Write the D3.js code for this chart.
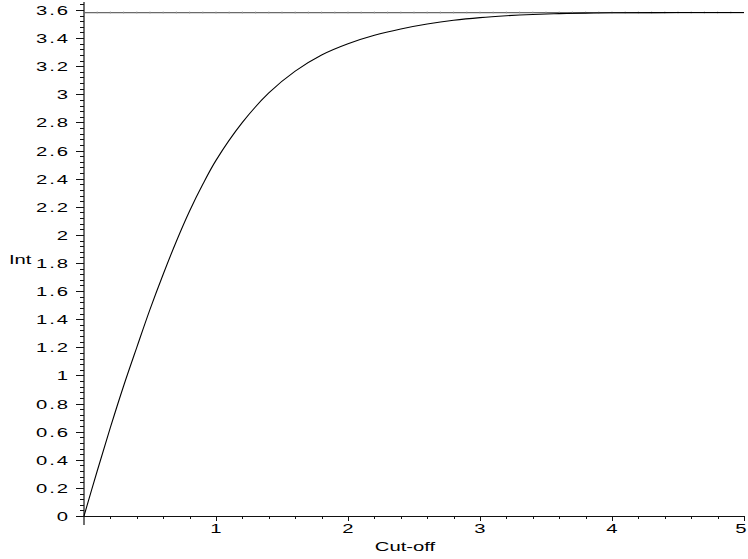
<!DOCTYPE html>
<html><head><meta charset="utf-8">
<script src="https://cdn.jsdelivr.net/npm/d3@7"></script>
<style>body{margin:0;background:#fff}svg{display:block}</style>
</head><body>
<script>
// Data
const cutoff = [0, 0.1, 0.2, 0.3, 0.4, 0.5, 0.6, 0.7, 0.8, 0.9, 1.0, 1.2, 1.4, 1.6, 1.8, 2.0, 2.2, 2.4, 2.6, 2.8, 3.0, 3.2, 3.4, 3.6, 3.8, 4.0, 4.5, 5.0];
const intValues = [0, 0.32, 0.63, 0.925, 1.20, 1.47, 1.72, 1.955, 2.17, 2.36, 2.53, 2.80, 3.01, 3.165, 3.28, 3.36, 3.42, 3.465, 3.50, 3.527, 3.546, 3.559, 3.568, 3.574, 3.578, 3.580, 3.582, 3.582];
const limitValue = [3.582];
const xTickValues = [1, 2, 3, 4, 5];
const xTickLabels = ["1", "2", "3", "4", "5"];
const yTickValues = [0,0.2,0.4,0.6,0.8,1,1.2,1.4,1.6,1.8,2,2.2,2.4,2.6,2.8,3,3.2,3.4,3.6];
const yTickLabels = ["0","0.2","0.4","0.6","0.8","1","1.2","1.4","1.6","1.8","2","2.2","2.4","2.6","2.8","3","3.2","3.4","3.6"];
const xLabel = "Cut-off";
const yLabel = "Int";

const W = 748, H = 559;
const svg = d3.select("body").append("svg").attr("width", W).attr("height", H);
const x = d3.scaleLinear().domain([0, 5]).range([84, 744]);
const y = d3.scaleLinear().domain([0, 3.6]).range([516, 10]);
const font = "'Liberation Sans', Arial, sans-serif";
const axisColor = "#111";

// Y axis
const yMinor = d3.range(0, 3.66, 0.04);
svg.append("line").attr("x1", x(0)).attr("x2", x(0)).attr("y1", 2).attr("y2", 525)
  .attr("stroke", axisColor).attr("stroke-width", 1.2);
svg.append("g").selectAll("line").data(yMinor).join("line")
  .attr("x1", x(0) - 4).attr("x2", x(0)).attr("y1", d => Math.round(y(d)) + 0.5).attr("y2", d => Math.round(y(d)) + 0.5)
  .attr("stroke", axisColor).attr("stroke-width", 1);
svg.append("g").selectAll("line").data(yTickValues).join("line")
  .attr("x1", x(0) - 8).attr("x2", x(0)).attr("y1", d => Math.round(y(d)) + 0.5).attr("y2", d => Math.round(y(d)) + 0.5)
  .attr("stroke", axisColor).attr("stroke-width", 1);
svg.append("g").selectAll("text").data(yTickValues).join("text")
  .attr("transform", d => `translate(70,${y(d) + 5}) scale(1.5,1)`)
  .attr("text-anchor", "end").attr("font-family", font).attr("font-size", 13.5)
  .attr("letter-spacing", 1.3)
  .text((d, i) => yTickLabels[i]);

// X axis
const xMinor = d3.range(0.2, 5.01, 0.2);
svg.append("line").attr("x1", 76).attr("x2", x(5)).attr("y1", y(0) + 0.5).attr("y2", y(0) + 0.5)
  .attr("stroke", axisColor).attr("stroke-width", 1.2);
svg.append("g").selectAll("line").data(xMinor).join("line")
  .attr("x1", d => Math.round(x(d)) + 0.5).attr("x2", d => Math.round(x(d)) + 0.5).attr("y1", y(0)).attr("y2", y(0) + 3)
  .attr("stroke", axisColor).attr("stroke-width", 1);
svg.append("g").selectAll("line").data(xTickValues).join("line")
  .attr("x1", d => Math.round(x(d)) + 0.5).attr("x2", d => Math.round(x(d)) + 0.5).attr("y1", y(0)).attr("y2", y(0) + 5)
  .attr("stroke", axisColor).attr("stroke-width", 1);
svg.append("g").selectAll("text").data(xTickValues).join("text")
  .attr("transform", d => `translate(${Math.min(x(d), W - 7)},533) scale(1.5,1)`)
  .attr("text-anchor", "middle").attr("font-family", font).attr("font-size", 13.5)
  .text((d, i) => xTickLabels[i]);

// Axis titles
svg.append("text").attr("transform", "translate(405,551) scale(1.5,1)")
  .attr("text-anchor", "middle").attr("font-family", font).attr("font-size", 13.5).text(xLabel);
svg.append("text").attr("transform", "translate(9,264) scale(1.5,1)")
  .attr("font-family", font).attr("font-size", 13.5).text(yLabel);

// Horizontal limit line with faint ticks
svg.append("line").attr("x1", x(0)).attr("x2", x(5)).attr("y1", y(limitValue[0])).attr("y2", y(limitValue[0]))
  .attr("stroke", "#6a6a6a").attr("stroke-width", 1.3);
svg.append("g").selectAll("line").data(d3.range(0.1, 5, 0.1)).join("line")
  .attr("x1", d => x(d)).attr("x2", d => x(d)).attr("y1", y(limitValue[0]) - 1).attr("y2", y(limitValue[0]) + 1)
  .attr("stroke", "#999").attr("stroke-width", 0.8);

// Curve
const pts = cutoff.map((c, i) => [c, intValues[i]]);
svg.append("path").datum(pts)
  .attr("d", d3.line().x(d => x(d[0])).y(d => y(d[1])).curve(d3.curveCatmullRom.alpha(0.5)))
  .attr("fill", "none").attr("stroke", "#000").attr("stroke-width", 1.1);
</script>
</body></html>
